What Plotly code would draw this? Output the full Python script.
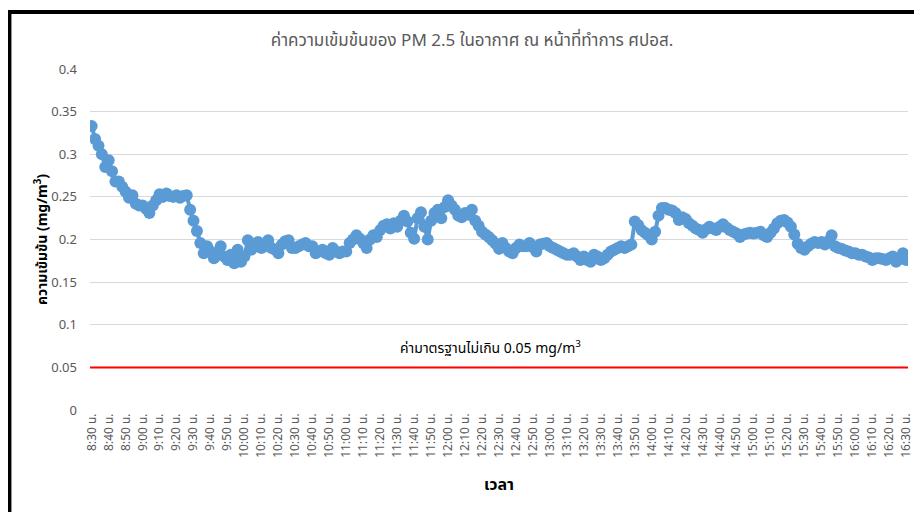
import plotly.graph_objects as go

# PM2.5 concentration (mg/m3), one reading every 2 minutes from 8:30 to 16:30
pm25 = [
    0.333, 0.318, 0.310, 0.300, 0.285, 0.293, 0.280, 0.268, 0.268, 0.262,
    0.256, 0.249, 0.252, 0.242, 0.240, 0.240, 0.236, 0.231, 0.240, 0.246,
    0.253, 0.250, 0.254, 0.251, 0.250, 0.252, 0.249, 0.251, 0.252, 0.235,
    0.222, 0.210, 0.196, 0.184, 0.192, 0.186, 0.178, 0.184, 0.192, 0.180,
    0.176, 0.182, 0.172, 0.188, 0.174, 0.180, 0.199, 0.188, 0.192, 0.197,
    0.190, 0.192, 0.199, 0.190, 0.188, 0.184, 0.194, 0.198, 0.199, 0.190,
    0.190, 0.192, 0.194, 0.196, 0.192, 0.192, 0.184, 0.186, 0.188, 0.184,
    0.182, 0.190, 0.186, 0.184, 0.186, 0.186, 0.196, 0.200, 0.205, 0.201,
    0.196, 0.190, 0.200, 0.205, 0.203, 0.211, 0.216, 0.218, 0.213, 0.219,
    0.215, 0.222, 0.228, 0.221, 0.208, 0.201, 0.225, 0.232, 0.215, 0.200,
    0.222, 0.231, 0.235, 0.225, 0.238, 0.246, 0.240, 0.235, 0.228, 0.226,
    0.231, 0.229, 0.235, 0.222, 0.216, 0.209, 0.206, 0.203, 0.199, 0.195,
    0.189, 0.196, 0.190, 0.186, 0.184, 0.190, 0.194, 0.192, 0.192, 0.196,
    0.191, 0.186, 0.194, 0.195, 0.196, 0.192, 0.190, 0.188, 0.186, 0.184,
    0.182, 0.182, 0.184, 0.180, 0.176, 0.180, 0.176, 0.174, 0.182, 0.180,
    0.176, 0.178, 0.182, 0.186, 0.188, 0.190, 0.192, 0.190, 0.192, 0.194,
    0.221, 0.217, 0.211, 0.208, 0.205, 0.200, 0.209, 0.228, 0.237, 0.237,
    0.235, 0.234, 0.231, 0.223, 0.226, 0.224, 0.219, 0.216, 0.213, 0.211,
    0.208, 0.212, 0.215, 0.213, 0.211, 0.215, 0.218, 0.214, 0.211, 0.209,
    0.207, 0.203, 0.206, 0.207, 0.208, 0.207, 0.208, 0.209, 0.205, 0.203,
    0.208, 0.213, 0.219, 0.222, 0.223, 0.220, 0.215, 0.206, 0.195, 0.190,
    0.188, 0.192, 0.195, 0.197, 0.196, 0.197, 0.194, 0.198, 0.205, 0.192,
    0.190, 0.189, 0.187, 0.186, 0.184, 0.184, 0.182, 0.182, 0.180, 0.179,
    0.176, 0.178, 0.178, 0.177, 0.176, 0.178, 0.180, 0.174, 0.177, 0.184,
    0.176,
]
STEP_MIN = 2
minutes = [i * STEP_MIN for i in range(len(pm25))]  # minutes after 8:30

tick_minutes = list(range(0, 481, 10))
tick_labels = [
    "8:30 น.", "8:40 น.", "8:50 น.", "9:00 น.", "9:10 น.", "9:20 น.", "9:30 น.",
    "9:40 น.", "9:50 น.", "10:00 น.", "10:10 น.", "10:20 น.", "10:30 น.",
    "10:40 น.", "10:50 น.", "11:00 น.", "11:10 น.", "11:20 น.", "11:30 น.",
    "11:40 น.", "11:50 น.", "12:00 น.", "12:10 น.", "12:20 น.", "12:30 น.",
    "12:40 น.", "12:50 น.", "13:00 น.", "13:10 น.", "13:20 น.", "13:30 น.",
    "13:40 น.", "13:50 น.", "14:00 น.", "14:10 น.", "14:20 น.", "14:30 น.",
    "14:40 น.", "14:50 น.", "15:00 น.", "15:10 น.", "15:20 น.", "15:30 น.",
    "15:40 น.", "15:50 น.", "16:00 น.", "16:10 น.", "16:20 น.", "16:30 น.",
]
y_ticks = [0, 0.05, 0.1, 0.15, 0.2, 0.25, 0.3, 0.35, 0.4]
y_tick_labels = ["0", "0.05", "0.1", "0.15", "0.2", "0.25", "0.3", "0.35", "0.4"]
STANDARD = 0.05

FONT = "Noto Sans, Noto Sans Thai, Open Sans, sans-serif"
BLUE = "#5B9BD5"
GRAY = "#595959"

fig = go.Figure()
fig.add_trace(go.Scatter(
    x=minutes, y=pm25, mode="lines+markers",
    line=dict(color=BLUE, width=4),
    marker=dict(color=BLUE, size=12),
    showlegend=False, hoverinfo="skip",
))

fig.add_shape(type="line", xref="paper", yref="y", x0=0, x1=1,
              y0=STANDARD, y1=STANDARD, line=dict(color="#FF0000", width=2))

fig.add_annotation(
    x=0.489, xref="paper", y=STANDARD, yref="y", yshift=20,
    text="ค่ามาตรฐานไม่เกิน 0.05 mg/m<sup>3</sup>", showarrow=False,
    font=dict(family=FONT, size=14, color="#000000"),
)

# outer frame of the screenshot (black border on top and left)
fig.add_shape(type="line", xref="paper", yref="paper",
              x0=-0.1, x1=1.03, y0=1.167, y1=1.167,
              line=dict(color="#000000", width=4))
fig.add_shape(type="line", xref="paper", yref="paper",
              x0=-0.0985, x1=-0.0985, y0=1.172, y1=-0.32,
              line=dict(color="#000000", width=4))

fig.update_layout(
    width=914, height=504,
    margin=dict(l=82, r=14, t=61, b=102, autoexpand=False),
    paper_bgcolor="white", plot_bgcolor="white",
    title=dict(
        text="ค่าความเข้มข้นของ PM 2.5 ในอากาศ ณ หน้าที่ทำการ ศปอส.",
        x=0.5077, xanchor="center", y=0.9365, yanchor="middle",
        font=dict(family=FONT, size=17, color=GRAY),
    ),
    xaxis=dict(
        range=[-1, 481], tickmode="array", tickvals=tick_minutes,
        ticktext=tick_labels, tickangle=-90, showgrid=False,
        zeroline=False, showline=False, ticks="", automargin=False,
        tickfont=dict(family=FONT, size=12, color=GRAY),
        title=dict(text="<b>เวลา</b>", font=dict(family=FONT, size=16, color="#000000"),
                   standoff=22),
    ),
    yaxis=dict(
        range=[0, 0.4], tickmode="array", tickvals=y_ticks, ticktext=y_tick_labels,
        showgrid=True, gridcolor="#D9D9D9", gridwidth=1,
        zeroline=False, showline=False, ticks="", automargin=False,
        tickfont=dict(family=FONT, size=13, color=GRAY), ticklabelstandoff=12,
        title=dict(text="<b>ความเข้มข้น (mg/m<sup>3</sup>)</b>",
                   font=dict(family=FONT, size=14, color="#000000"), standoff=0),
    ),
)

fig.write_html("out.html")
